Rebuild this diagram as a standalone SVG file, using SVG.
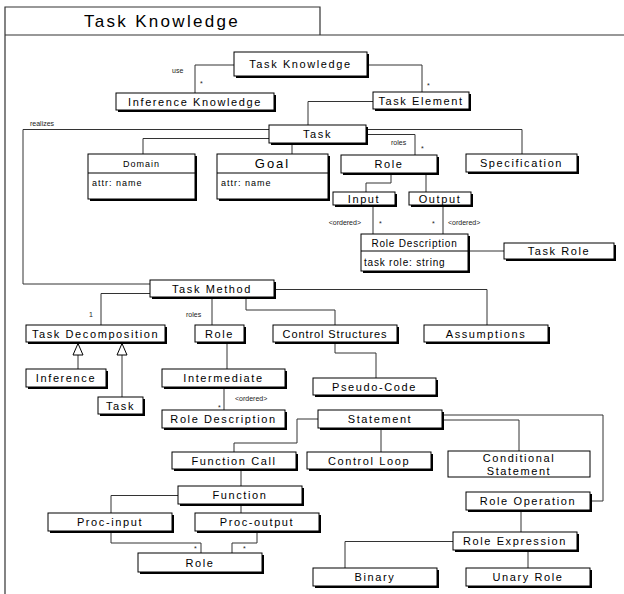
<svg xmlns="http://www.w3.org/2000/svg" width="624" height="594" viewBox="0 0 624 594">
<style>
.sh{fill:#000}
.bx{fill:#fff;stroke:#000;stroke-width:1}
.t{font-family:"Liberation Sans",Arial,sans-serif;font-size:11px;letter-spacing:1.6px;text-anchor:middle;fill:#000}
.s{font-family:"Liberation Sans",Arial,sans-serif;font-size:7px;fill:#222}
.a{font-family:"Liberation Sans",Arial,sans-serif;font-size:9px;letter-spacing:1px;fill:#000}
.c{fill:none;stroke:#333;stroke-width:1}
</style>
<rect width="624" height="594" fill="#fff"/>
<g id="frame">
<path d="M5,594V7H320V35M5,35H624" fill="none" stroke="#333" stroke-width="1.2"/>
<text x="162" y="27" style="font-family:'Liberation Sans',Arial,sans-serif;font-size:17px;letter-spacing:2.3px;text-anchor:middle">Task Knowledge</text>
</g>
<g id="connectors">
<path class="c" d="M234,65H195V93"/>
<path class="c" d="M367,65H422V92"/>
<path class="c" d="M373,101.5H308V125"/>
<path class="c" d="M269,129.5H23V284H150"/>
<path class="c" d="M269,138.5H143V154"/>
<path class="c" d="M292,143V154"/>
<path class="c" d="M366,129.5H522V154"/>
<path class="c" d="M366,134.5H415V155"/>
<path class="c" d="M391,173V183H366V193"/>
<path class="c" d="M426,173V193"/>
<path class="c" d="M373,206V234"/>
<path class="c" d="M443,206V234"/>
<path class="c" d="M468,251H504"/>
<path class="c" d="M274,289.5H487V325"/>
<path class="c" d="M246,297V310H335V325"/>
<path class="c" d="M150,293.5H101V325"/>
<path class="c" d="M212,297V325"/>
<path class="c" d="M78,355V369M122,355V397"/>
<path d="M78,343.5L73,355H83ZM122,343.5L117,355H127Z" fill="#fff" stroke="#000" stroke-width="1"/>
<path class="c" d="M227,342V369"/>
<path class="c" d="M224,387V410"/>
<path class="c" d="M335,342V353H376V378"/>
<path class="c" d="M318,419H297V443H234V452"/>
<path class="c" d="M381,428V452"/>
<path class="c" d="M442,415H603V501H590"/>
<path class="c" d="M442,420H519V451"/>
<path class="c" d="M521,510V532"/>
<path class="c" d="M453,541.5H345V568"/>
<path class="c" d="M528,550V568"/>
<path class="c" d="M241,469V486"/>
<path class="c" d="M178,495.5H111V513"/>
<path class="c" d="M241,504V513"/>
<path class="c" d="M111,531V543H201V553"/>
<path class="c" d="M257,531V543H232V553"/>
<text class="s" x="172" y="73">use</text>
<text class="s" x="200" y="86">*</text>
<text class="s" x="427" y="88">*</text>
<text class="s" x="30" y="126">realizes</text>
<text class="s" x="391" y="145">roles</text>
<text class="s" x="421" y="151">*</text>
<text class="s" x="361" y="225" text-anchor="end">&lt;ordered&gt;</text>
<text class="s" x="379" y="226">*</text>
<text class="s" x="432" y="226">*</text>
<text class="s" x="448" y="225">&lt;ordered&gt;</text>
<text class="s" x="89" y="317">1</text>
<text class="s" x="186" y="317">roles</text>
<text class="s" x="218" y="410">*</text>
<text class="s" x="235" y="401">&lt;ordered&gt;</text>
<text class="s" x="194" y="551">*</text>
<text class="s" x="243" y="551">*</text>
</g>
<g id="n-taskknowledge"><rect class="sh" x="236" y="54" width="133" height="24"/><rect class="bx" x="234" y="52" width="133" height="24"/><text class="t" x="300.5" y="68">Task Knowledge</text></g>
<g id="n-inferenceknowledge"><rect class="sh" x="118" y="95" width="158" height="17"/><rect class="bx" x="116" y="93" width="158" height="17"/><text class="t" x="195" y="105.5">Inference Knowledge</text></g>
<g id="n-taskelement"><rect class="sh" x="375" y="94" width="96" height="17"/><rect class="bx" x="373" y="92" width="96" height="17"/><text class="t" x="421" y="104.5">Task Element</text></g>
<g id="n-task"><rect class="sh" x="271" y="127" width="97" height="18"/><rect class="bx" x="269" y="125" width="97" height="18"/><text class="t" x="317.5" y="138">Task</text></g>
<g id="n-domain"><rect class="sh" x="90" y="156" width="107" height="45"/><rect class="bx" x="88" y="154" width="107" height="45"/><path d="M88,173H195" stroke="#000"/><text class="a" x="141.5" y="167" text-anchor="middle">Domain</text><text class="a" x="92" y="186">attr: name</text></g>
<g id="n-goal"><rect class="sh" x="219" y="156" width="111" height="45"/><rect class="bx" x="217" y="154" width="111" height="45"/><path d="M217,173H328" stroke="#000"/><text class="t" x="272.5" y="168" style="font-size:13px;letter-spacing:2px">Goal</text><text class="a" x="221" y="186">attr: name</text></g>
<g id="n-role1"><rect class="sh" x="343" y="157" width="96" height="18"/><rect class="bx" x="341" y="155" width="96" height="18"/><text class="t" x="389" y="168">Role</text></g>
<g id="n-specification"><rect class="sh" x="468" y="156" width="111" height="18"/><rect class="bx" x="466" y="154" width="111" height="18"/><text class="t" x="521.5" y="167">Specification</text></g>
<g id="n-input"><rect class="sh" x="335" y="194" width="62" height="13"/><rect class="bx" x="333" y="192" width="62" height="13"/><text class="t" x="364" y="202.5">Input</text></g>
<g id="n-output"><rect class="sh" x="411" y="194" width="62" height="13"/><rect class="bx" x="409" y="192" width="62" height="13"/><text class="t" x="440" y="202.5">Output</text></g>
<g id="n-roledescription1"><rect class="sh" x="363" y="236" width="107" height="37"/><rect class="bx" x="361" y="234" width="107" height="37"/><path d="M361,251H468" stroke="#000"/><text class="t" x="414.5" y="246.5" style="font-size:10px;letter-spacing:0.8px">Role Description</text><text class="a" x="364" y="266" style="font-size:10px;letter-spacing:0.8px">task role: string</text></g>
<g id="n-taskrole"><rect class="sh" x="506" y="245" width="110" height="16"/><rect class="bx" x="504" y="243" width="110" height="16"/><text class="t" x="559" y="255">Task Role</text></g>
<g id="n-taskmethod"><rect class="sh" x="152" y="282" width="124" height="17"/><rect class="bx" x="150" y="280" width="124" height="17"/><text class="t" x="212" y="292.5">Task Method</text></g>
<g id="n-taskdecomposition"><rect class="sh" x="28" y="327" width="139" height="17"/><rect class="bx" x="26" y="325" width="139" height="17"/><text class="t" x="95.5" y="337.5">Task Decomposition</text></g>
<g id="n-role2"><rect class="sh" x="197" y="327" width="49" height="17"/><rect class="bx" x="195" y="325" width="49" height="17"/><text class="t" x="219.5" y="337.5">Role</text></g>
<g id="n-controlstructures"><rect class="sh" x="275" y="327" width="124" height="17"/><rect class="bx" x="273" y="325" width="124" height="17"/><text class="t" x="335" y="337.5" style="letter-spacing:0.9px">Control Structures</text></g>
<g id="n-assumptions"><rect class="sh" x="426" y="327" width="124" height="17"/><rect class="bx" x="424" y="325" width="124" height="17"/><text class="t" x="486" y="337.5">Assumptions</text></g>
<g id="n-inference"><rect class="sh" x="28" y="371" width="80" height="18"/><rect class="bx" x="26" y="369" width="80" height="18"/><text class="t" x="66" y="382">Inference</text></g>
<g id="n-task2"><rect class="sh" x="100" y="399" width="45" height="17"/><rect class="bx" x="98" y="397" width="45" height="17"/><text class="t" x="120.5" y="409.5">Task</text></g>
<g id="n-intermediate"><rect class="sh" x="164" y="371" width="123" height="18"/><rect class="bx" x="162" y="369" width="123" height="18"/><text class="t" x="223.5" y="382">Intermediate</text></g>
<g id="n-roledescription2"><rect class="sh" x="164" y="412" width="123" height="18"/><rect class="bx" x="162" y="410" width="123" height="18"/><text class="t" x="223.5" y="423">Role Description</text></g>
<g id="n-pseudocode"><rect class="sh" x="315" y="380" width="123" height="17"/><rect class="bx" x="313" y="378" width="123" height="17"/><text class="t" x="374.5" y="390.5">Pseudo-Code</text></g>
<g id="n-statement"><rect class="sh" x="320" y="412" width="124" height="18"/><rect class="bx" x="318" y="410" width="124" height="18"/><text class="t" x="380" y="423">Statement</text></g>
<g id="n-functioncall"><rect class="sh" x="174" y="454" width="124" height="17"/><rect class="bx" x="172" y="452" width="124" height="17"/><text class="t" x="234" y="464.5">Function Call</text></g>
<g id="n-controlloop"><rect class="sh" x="309" y="454" width="124" height="17"/><rect class="bx" x="307" y="452" width="124" height="17"/><text class="t" x="369" y="464.5">Control Loop</text></g>
<g id="n-conditionalstatement"><rect class="bx" x="448" y="451" width="142" height="26"/><text class="t" x="519" y="462">Conditional</text><text class="t" x="519" y="475">Statement</text></g>
<g id="n-roleoperation"><rect class="sh" x="468" y="494" width="124" height="18"/><rect class="bx" x="466" y="492" width="124" height="18"/><text class="t" x="528" y="505">Role Operation</text></g>
<g id="n-roleexpression"><rect class="sh" x="455" y="534" width="124" height="18"/><rect class="bx" x="453" y="532" width="124" height="18"/><text class="t" x="515" y="545">Role Expression</text></g>
<g id="n-binary"><rect class="sh" x="315" y="570" width="124" height="18"/><rect class="bx" x="313" y="568" width="124" height="18"/><text class="t" x="375" y="581">Binary</text></g>
<g id="n-unaryrole"><rect class="sh" x="468" y="570" width="124" height="18"/><rect class="bx" x="466" y="568" width="124" height="18"/><text class="t" x="528" y="581">Unary Role</text></g>
<g id="n-function"><rect class="sh" x="180" y="488" width="124" height="18"/><rect class="bx" x="178" y="486" width="124" height="18"/><text class="t" x="240" y="499">Function</text></g>
<g id="n-procinput"><rect class="sh" x="50" y="515" width="124" height="18"/><rect class="bx" x="48" y="513" width="124" height="18"/><text class="t" x="110" y="526">Proc-input</text></g>
<g id="n-procoutput"><rect class="sh" x="197" y="515" width="124" height="18"/><rect class="bx" x="195" y="513" width="124" height="18"/><text class="t" x="257" y="526">Proc-output</text></g>
<g id="n-role3"><rect class="sh" x="140" y="555" width="124" height="19"/><rect class="bx" x="138" y="553" width="124" height="19"/><text class="t" x="200" y="566.5">Role</text></g>
</svg>
